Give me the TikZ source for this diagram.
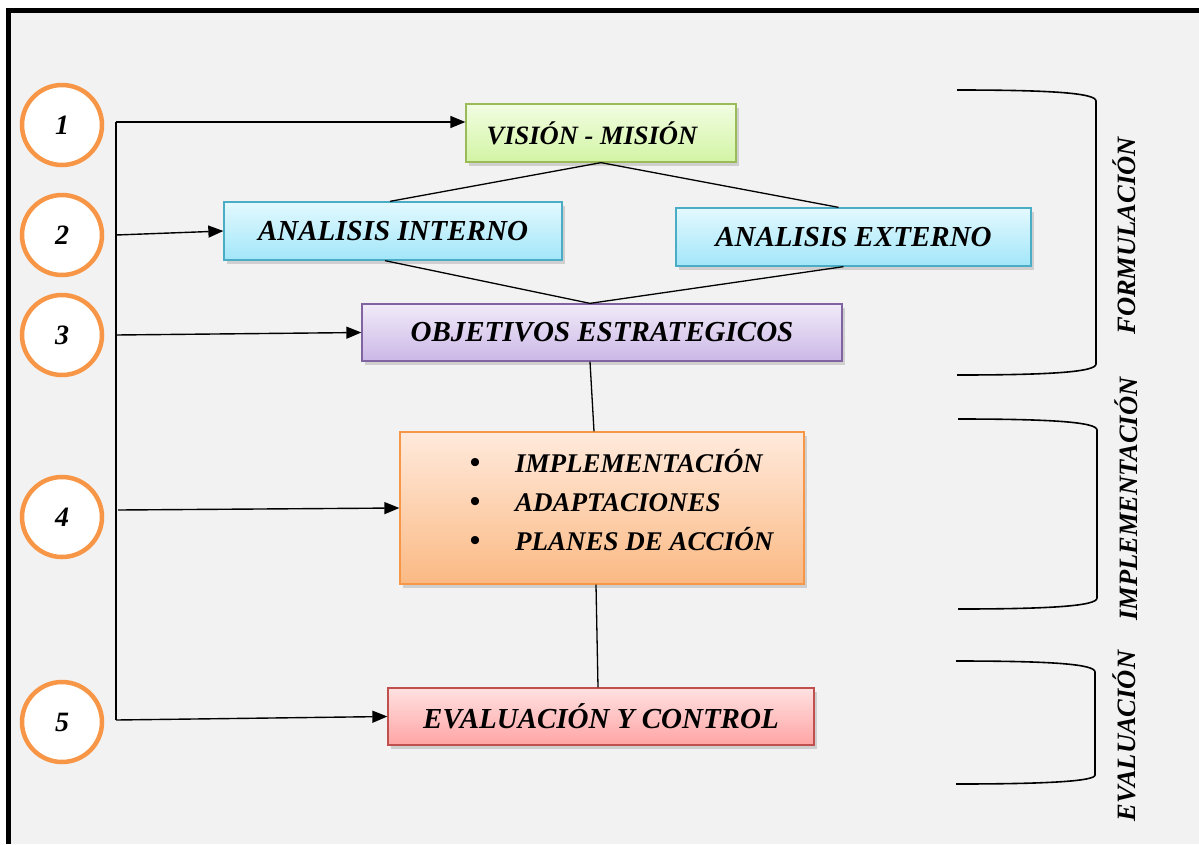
\documentclass[tikz,border=0pt]{standalone}
\usepackage{fontspec}
\setmainfont{Liberation Serif}
\usetikzlibrary{shadows,arrows.meta,calc}
\definecolor{bggray}{HTML}{F2F2F2}
\definecolor{orangeline}{HTML}{F79646}
\definecolor{gTop}{HTML}{F2FDE2}\definecolor{gBot}{HTML}{D2F4A4}\definecolor{gLine}{HTML}{9BBB59}
\definecolor{bTop}{HTML}{E3F9FE}\definecolor{bBot}{HTML}{A2E6F9}\definecolor{bLine}{HTML}{4BACC6}
\definecolor{pTop}{HTML}{F1EBF8}\definecolor{pBot}{HTML}{CBB7E7}\definecolor{pLine}{HTML}{8064A2}
\definecolor{oTop}{HTML}{FFEADC}\definecolor{oBot}{HTML}{FBB983}\definecolor{oLine}{HTML}{F79646}
\definecolor{rTop}{HTML}{FFE1E1}\definecolor{rBot}{HTML}{FFA4A4}\definecolor{rLine}{HTML}{C0504D}
\begin{document}
\begin{tikzpicture}[x=1pt,y=-1pt,
  boxstyle/.style={draw, line width=1.3pt, inner sep=0pt, anchor=center,
    font=\bfseries\itshape\fontsize{29}{34}\selectfont,
    drop shadow={shadow xshift=3pt,shadow yshift=-4pt,opacity=0.3}},
  numcircle/.style={circle, draw=orangeline, fill=white, line width=4.5pt,
    minimum size=80pt, inner sep=0pt, font=\bfseries\itshape\fontsize{28}{32}\selectfont},
  arr/.style={line width=1.4pt, -{Triangle[length=15pt,width=12pt]}},
  link/.style={line width=1.3pt},
  brace/.style={line width=1.6pt},
  sidelabel/.style={rotate=90, font=\bfseries\itshape\fontsize{26.5}{30}\selectfont},
  listtext/.style={anchor=base west, inner sep=0pt, font=\bfseries\itshape\fontsize{27}{32}\selectfont},
  bullettext/.style={anchor=base, inner sep=0pt, font=\bfseries\fontsize{30}{32}\selectfont}]
\useasboundingbox (0,0) rectangle (1199,844);
\fill[white] (0,0) rectangle (1199,844);
\fill[bggray] (8,10) rectangle (1199,844);
\draw[line width=5pt, line join=miter] (8.5,844) -- (8.5,10.5) -- (1199,10.5);

% numbered circles
\node[numcircle] (n1) at (62,125) {1};
\node[numcircle] (n2) at (62,235) {2};
\node[numcircle] (n3) at (62,335) {3};
\node[numcircle] (n4) at (62,517) {4};
\node[numcircle] (n5) at (62,722) {5};

% boxes
\node[boxstyle, top color=gTop, bottom color=gBot, draw=gLine,
  minimum width=270pt, minimum height=58pt, font=\bfseries\itshape\fontsize{26.5}{30}\selectfont] (vm) at (601,133) {\hspace*{-18pt}VISIÓN - MISIÓN};
\node[boxstyle, top color=bTop, bottom color=bBot, draw=bLine,
  minimum width=338pt, minimum height=58pt] (ai) at (393,231) {ANALISIS INTERNO};
\node[boxstyle, top color=bTop, bottom color=bBot, draw=bLine,
  minimum width=355pt, minimum height=58pt] (ae) at (853.5,237) {ANALISIS EXTERNO};
\node[boxstyle, top color=pTop, bottom color=pBot, draw=pLine,
  minimum width=480pt, minimum height=57pt] (obj) at (602,332.5) {OBJETIVOS ESTRATEGICOS};
\node[boxstyle, top color=oTop, bottom color=oBot, draw=oLine,
  minimum width=404pt, minimum height=152pt] (ob) at (602,508) {};
\node[boxstyle, top color=rTop, bottom color=rBot, draw=rLine,
  minimum width=426pt, minimum height=57pt] (ev) at (601,716.5) {EVALUACIÓN Y CONTROL};

% list inside orange box
\node[bullettext] (b1) at (475,472) {•};
\node[bullettext] (b2) at (475,511) {•};
\node[bullettext] (b3) at (475,550) {•};
\node[listtext] (l1) at (515,472) {IMPLEMENTACIÓN};
\node[listtext] (l2) at (515,511) {ADAPTACIONES};
\node[listtext] (l3) at (515,550) {PLANES DE ACCIÓN};

% connecting lines between boxes
\draw[link] (vm.south) -- ($(ai.north)+(-3,0)$);
\draw[link] (vm.south) -- ($(ae.north)+(-15,0)$);
\draw[link] ($(ai.south)+(-8,0)$) -- ($(obj.north)+(-12,0)$);
\draw[link] ($(ae.south)+(-10,0)$) -- ($(obj.north)+(-12,0)$);
\draw[link] ($(obj.south)+(-12,0)$) -- ($(ob.north)+(-8,0)$);
\draw[link] ($(ob.south)+(-6,0)$) -- ($(ev.north)+(-3,0)$);

% left bus and arrows
\coordinate (c1) at (116,122);
\coordinate (c2) at (116,235);
\coordinate (c3) at (116,335);
\coordinate (c4) at (118,510);
\coordinate (c5) at (116,720);
\draw[link] (c5) -- (c1);
\draw[arr] (c1) -- (c1 -| vm.west);
\draw[arr] (c2) -- (ai.west);
\draw[arr] (c3) -- (obj.west);
\draw[arr] (c4) -- (ob.west);
\draw[arr] (c5) -- (ev.west);

% brackets
\draw[brace] (957,90) .. controls (1050,90) and (1096,93) .. (1096,101) -- (1096,364) .. controls (1096,372) and (1050,375) .. (957,375);
\draw[brace] (958,419) .. controls (1050,419) and (1097,422) .. (1097,430) -- (1097,598) .. controls (1097,606) and (1050,609) .. (958,609);
\draw[brace] (956,661) .. controls (1050,661) and (1095,664) .. (1095,672) -- (1095,775) .. controls (1095,781) and (1050,784) .. (956,784);

% side labels
\node[sidelabel] (f) at (1124,236) {FORMULACIÓN};
\node[sidelabel] (im) at (1126,499) {IMPLEMENTACIÓN};
\node[sidelabel] (e) at (1124,736) {EVALUACIÓN};
\end{tikzpicture}
\end{document}
